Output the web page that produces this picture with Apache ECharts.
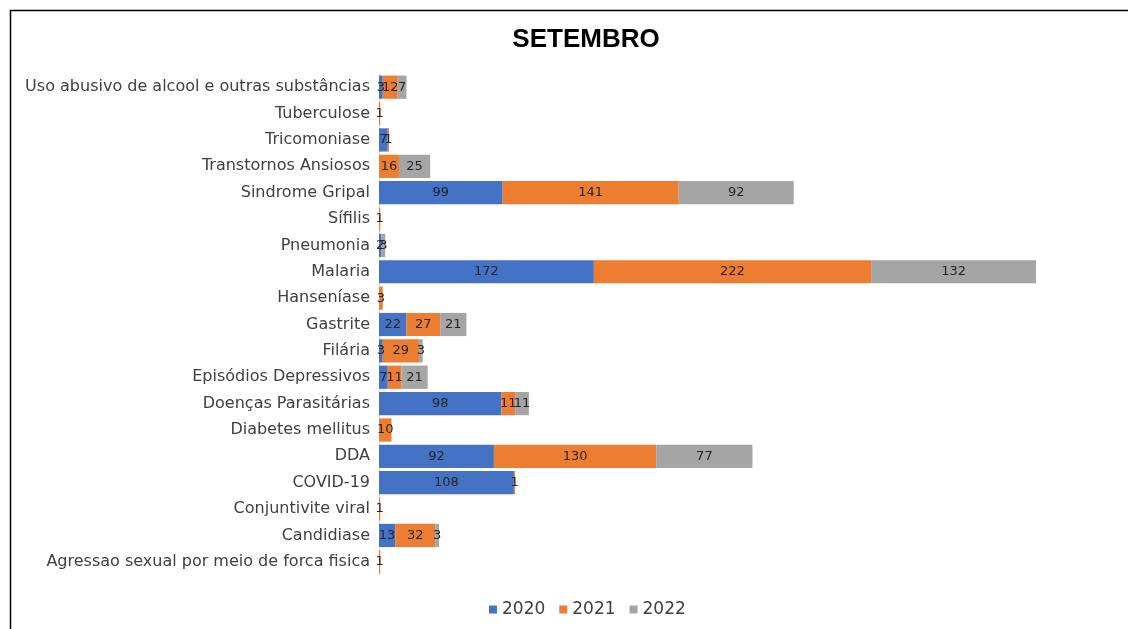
<!DOCTYPE html>
<html>
<head>
<meta charset="utf-8">
<script src="https://cdn.jsdelivr.net/npm/echarts@6/dist/echarts.min.js"></script>
<style>
  html, body { margin: 0; padding: 0; background: #fff; }
  #chart { width: 1128px; height: 629px; }
</style>
</head>
<body>
<div id="chart"></div>
<script>
  // categorias de baixo para cima (eixo de categorias do ECharts começa embaixo)
  const categorias = [
    'Agressao sexual por meio de forca fisica',
    'Candidiase',
    'Conjuntivite viral',
    'COVID-19',
    'DDA',
    'Diabetes mellitus',
    'Doenças Parasitárias',
    'Episódios Depressivos',
    'Filária',
    'Gastrite',
    'Hanseníase',
    'Malaria',
    'Pneumonia',
    'Sífilis',
    'Sindrome Gripal',
    'Transtornos Ansiosos',
    'Tricomoniase',
    'Tuberculose',
    'Uso abusivo de alcool e outras substâncias'
  ];
  const anos = ['2020', '2021', '2022'];
  const v2020 = [0, 13, 0, 108, 92, 0, 98, 7, 3, 22, 0, 172, 2, 0, 99, 0, 7, 0, 3];
  const v2021 = [1, 32, 1, 1, 130, 10, 11, 11, 29, 27, 3, 222, 0, 1, 141, 16, 1, 1, 12];
  const v2022 = [0, 3, 0, 0, 77, 0, 11, 21, 3, 21, 0, 132, 3, 0, 92, 25, 0, 0, 7];
  const cores = ['#4472C4', '#ED7D31', '#A5A5A5'];

  const fonte = 'DejaVu Sans, Verdana, sans-serif';
  const chart = echarts.init(document.getElementById('chart'));

  function serie(nome, dados, cor) {
    return {
      name: nome,
      type: 'bar',
      stack: 'total',
      barCategoryGap: '12%',
      itemStyle: { color: cor },
      label: {
        show: true,
        position: 'inside',
        color: '#262626',
        fontSize: 13,
        fontFamily: fonte,
        formatter: p => (p.value ? p.value : '')
      },
      data: dados
    };
  }

  chart.setOption({
    animation: false,
    title: {
      text: 'SETEMBRO',
      left: 581,
      top: 22,
      textAlign: 'center',
      textStyle: {
        fontFamily: 'Liberation Sans, Arial, sans-serif',
        fontSize: 26,
        fontWeight: 'bold',
        color: '#000'
      }
    },
    // moldura: só topo e lado esquerdo aparecem no recorte
    graphic: [{
      type: 'polyline',
      shape: { points: [[10.5, 640], [10.5, 10.5], [1128, 10.5]] },
      style: { fill: 'none', stroke: '#000', lineWidth: 1.5 }
    }],
    legend: {
      data: anos,
      bottom: 6,
      left: 484,
      icon: 'rect',
      itemWidth: 8,
      itemHeight: 8,
      itemGap: 14,
      textStyle: {
        fontFamily: fonte,
        fontSize: 17,
        color: '#404040'
      }
    },
    grid: {
      left: 379,
      top: 74,
      width: 662,
      height: 501
    },
    xAxis: {
      type: 'value',
      min: 0,
      max: 530,
      show: false
    },
    yAxis: {
      type: 'category',
      data: categorias,
      axisTick: { show: false },
      axisLine: { show: true, lineStyle: { color: '#d9d9d9' } },
      axisLabel: {
        margin: 9,
        fontFamily: fonte,
        fontSize: 16,
        color: '#404040'
      }
    },
    series: [
      serie(anos[0], v2020, cores[0]),
      serie(anos[1], v2021, cores[1]),
      serie(anos[2], v2022, cores[2])
    ]
  });
</script>
</body>
</html>
